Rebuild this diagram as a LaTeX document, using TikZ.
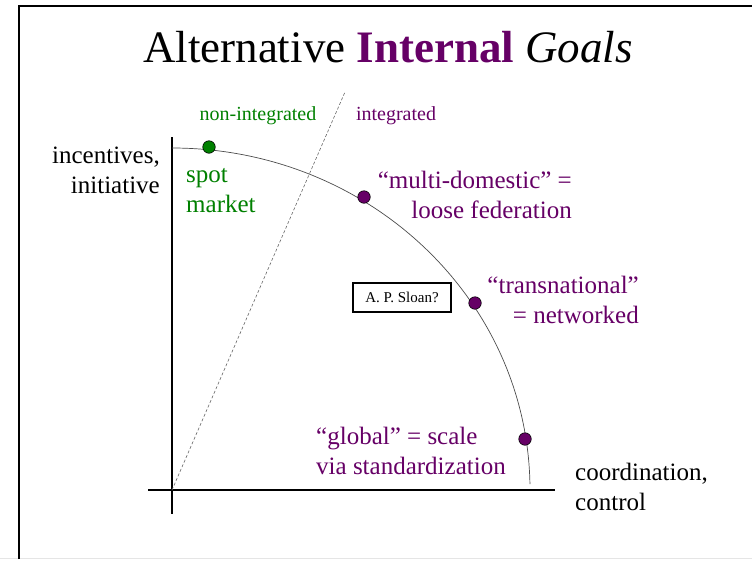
\documentclass[tikz,border=0pt]{standalone}
\usepackage{fontspec}
\setmainfont{Liberation Serif}
\definecolor{goalpurple}{RGB}{102,0,102}
\definecolor{goalgreen}{RGB}{0,128,0}
\begin{document}
\begin{tikzpicture}[x=1pt,y=-1pt,
    lbl/.style={inner sep=0pt, font=\fontsize{25}{30}\selectfont},
    small/.style={inner sep=0pt, font=\fontsize{20}{24}\selectfont},
    gdot/.style={circle, draw=black, line width=0.6pt, inner sep=0pt, minimum size=12.5pt}]
    \useasboundingbox (0,0) rectangle (752,560);
    %% slide frame
    \draw[gray!20, line width=1pt] (0,558) -- (752,558);
    \draw[line width=1.5pt] (19,559) -- (19,6) -- (752,6);
    %% title
    \node[inner sep=0pt, anchor=base, font=\fontsize{45}{50}\selectfont] (title) at (388,62)
        {Alternative \textcolor{goalpurple}{\textbf{Internal}} \textit{Goals}};
    %% axes
    \coordinate (O) at (172,490);
    \draw[line width=1.5pt] (172,137) -- (172,514);
    \draw[line width=1.5pt] (148,490) -- (555,490);
    %% frontier and integration boundary
    \draw[black!70, line width=0.7pt] (172,148) arc[start angle=-90, end angle=-1, x radius=358, y radius=342];
    \coordinate (bound) at (345,92);
    \draw[black!60, densely dashed, line width=0.6pt] (O) -- (bound);
    %% axis labels (base = last line)
    \node[lbl, anchor=base east, align=right] (yaxis) at (160,193) {incentives,\\initiative};
    \node[lbl, anchor=base west, align=left] (xaxis) at (575,510) {coordination,\\control};
    \node[small, anchor=base, text=goalgreen] (nonint) at (258,120) {non-integrated};
    \node[small, anchor=base, text=goalpurple] (integ) at (396,120) {integrated};
    %% points on the frontier
    \node[gdot, fill=goalgreen] (spot) at (209,147) {};
    \foreach \name/\x/\y in {multi/364/197, trans/475/303, global/525/439}
        \node[gdot, fill=goalpurple] (\name) at (\x,\y) {};
    \node[lbl, anchor=base west, align=left, text=goalgreen] (spotlbl) at (186,212) {spot\\market};
    \node[lbl, anchor=base east, align=right, text=goalpurple] (multilbl) at (572,218)
        {``multi-domestic'' =\\loose federation};
    \node[lbl, anchor=base east, align=right, text=goalpurple] (translbl) at (639,323)
        {``transnational''\\= networked};
    \node[lbl, anchor=base west, align=left, text=goalpurple] (globallbl) at (316,474)
        {``global'' = scale\\via standardization};
    \node[draw, line width=1.5pt, minimum width=98pt, minimum height=29pt, inner sep=0pt,
        font=\fontsize{15}{18}\selectfont] (sloan) at (402,297.5) {A. P. Sloan?};
\end{tikzpicture}
\end{document}
